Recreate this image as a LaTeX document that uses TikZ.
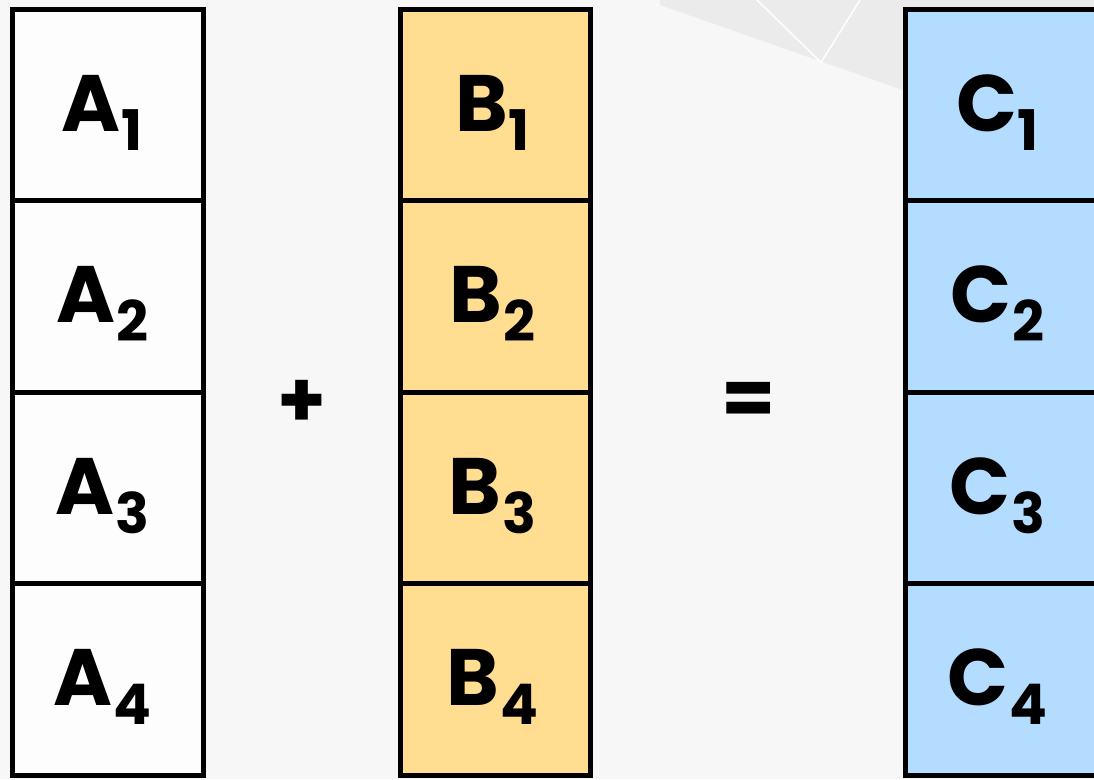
\documentclass[tikz,border=0pt]{standalone}
\usepackage{fontspec}
\usetikzlibrary{calc}
\setmainfont{Poppins}[BoldFont={* Bold}]
\definecolor{bgcol}{HTML}{F7F7F7}
\definecolor{bggray}{HTML}{EBEBEB}
\definecolor{cellA}{HTML}{FDFDFD}
\definecolor{cellB}{HTML}{FFDE92}
\definecolor{cellC}{HTML}{B3DCFF}
\newcommand\celltext[2]{#1\kern1pt\raisebox{-19pt}{\fontsize{56}{56}\selectfont #2}}
\tikzset{
  cellbox/.style={draw=black, line width=5pt, minimum width=191pt, minimum height=191.4pt, inner sep=0pt, outer sep=0pt},
  lab/.style={anchor=base, inner sep=0pt, font=\fontsize{80}{80}\selectfont\bfseries},
  opsym/.style={anchor=center, inner sep=0pt, font=\fontsize{78}{78}\selectfont\bfseries},
}
\begin{document}
\begin{tikzpicture}[x=1pt,y=-1pt]
\useasboundingbox (0,0) rectangle (1094,779);
\fill[bgcol] (0,0) rectangle (1094,779);
\fill[bggray] (660,0) -- (660,5) -- (1094,157) -- (1094,0) -- cycle;
\draw[white, line width=1.5pt] (757,0) -- (821,62.5) -- (860,0);
\foreach \i/\c in {1/105.2,2/296.6,3/488,4/679.4}{
  \node[cellbox, fill=cellA] (a\i) at (107.5,\c) {};
  \node[lab] (ta\i) at ($(a\i.center)+(-5,26)$) {\celltext{A}{\i}};
}
\foreach \i/\c in {1/105.2,2/296.6,3/488,4/679.4}{
  \node[cellbox, fill=cellB, minimum width=190pt] (b\i) at (495.5,\c) {};
  \node[lab] (tb\i) at ($(b\i.center)+(-3,26)$) {\celltext{B}{\i}};
}
\foreach \i/\c in {1/105.2,2/296.6,3/488,4/679.4}{
  \node[cellbox, fill=cellC] (c\i) at (1000.5,\c) {};
  \node[lab] (tc\i) at ($(c\i.center)+(-3,26)$) {\celltext{C}{\i}};
}
\node[opsym] (plus) at (301.5,403.5) {+};
\node[opsym] (eq) at (748.5,403.5) {=};
\end{tikzpicture}
\end{document}
